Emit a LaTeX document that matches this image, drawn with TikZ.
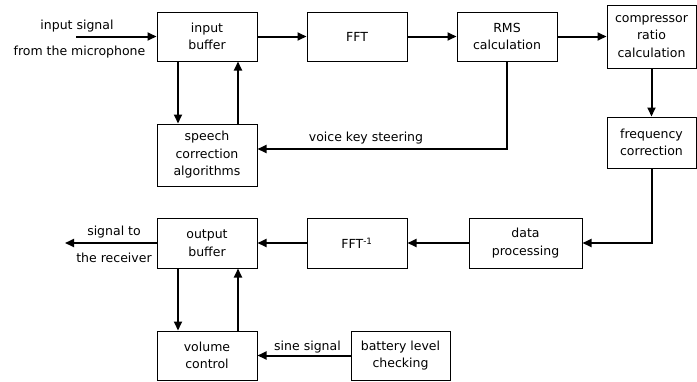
\documentclass[tikz,border=0pt]{standalone}
\usepackage{xcolor}
\usepackage{tikz}
\usepackage{fontspec}
\setmainfont{DejaVu Sans}
\usetikzlibrary{arrows.meta}

\begin{document}
\begin{tikzpicture}[x=1pt, y=-1pt,
    font=\fontsize{12.5}{17.5}\selectfont,
    blk/.style={draw, line width=1pt, align=center, inner sep=0pt, minimum width=100pt, minimum height=49pt},
    lbl/.style={draw=none, inner sep=0pt},
    arr/.style={-{Triangle[length=9pt, width=8pt]}, line width=2pt}]
                    \useasboundingbox (0,0) rectangle (697,381);

                    % Blocks placed at pixel coordinates
                    \node[blk] (InBuf)    at (207,36.5)   {input\\buffer};
                    \node[blk] (FFT)      at (357,36.5)   {FFT};
                    \node[blk] (RMS)      at (507,36.5)   {RMS\\calculation};
                    \node[blk, minimum width=89pt, minimum height=63pt] (Comp) at (651.5,36.5) {compressor\\ratio\\calculation};
                    \node[blk, minimum width=89pt, minimum height=51pt] (Freq) at (651.5,142.5) {frequency\\correction};
                    \node[blk, minimum height=62pt] (Speech) at (207,155) {speech\\correction\\algorithms};
                    \node[blk, minimum width=113pt, minimum height=50pt] (DataProc) at (525.5,243) {data\\processing};
                    \node[blk, minimum height=50pt] (IFFT)   at (357,243)  {FFT\textsuperscript{-1}};
                    \node[blk, minimum height=50pt] (OutBuf) at (207,243)  {output\\buffer};
                    \node[blk] (Volume)   at (207,355.5)  {volume\\control};
                    \node[blk, minimum width=99pt] (Battery) at (400.5,355.5) {battery level\\checking};

                    % Free ends of the outer arrows
                    \coordinate (MicIn)  at (76,36.5);
                    \coordinate (RecOut) at (65,243);

                    % Texts beside the arrows
                    \node[lbl] (InSig)    at (77,26)     {input signal};
                    \node[lbl] (InMic)    at (79.5,52)   {from the microphone};
                    \node[lbl] (OutSig)   at (114,232)   {signal to};
                    \node[lbl] (OutRec)   at (114,257.5) {the receiver};
                    \node[lbl] (VoiceKey) at (366,138)   {voice key steering};
                    \node[lbl] (Sine)     at (307.5,347) {sine signal};

                    % Arrows
                    \draw[arr] (MicIn) -- (InBuf);
                    \draw[arr] (InBuf) -- (FFT);
                    \draw[arr] (FFT) -- (RMS);
                    \draw[arr] (RMS) -- (Comp);
                    \draw[arr] (Comp) -- (Freq);
                    \draw[arr] (Freq.south) |- (DataProc.east);
                    \draw[arr] (DataProc) -- (IFFT);
                    \draw[arr] (IFFT) -- (OutBuf);
                    \draw[arr] (OutBuf) -- (RecOut);
                    \draw[arr] (RMS.south) |- ([yshift=6pt]Speech.east);
                    \draw[arr] (Battery) -- (Volume);

                    % Loops down and back up
                    \draw[arr] ([xshift=-29pt]InBuf.south) -- ([xshift=-29pt]Speech.north);
                    \draw[arr] ([xshift=31pt]Speech.north) -- ([xshift=31pt]InBuf.south);
                    \draw[arr] ([xshift=-29pt]OutBuf.south) -- ([xshift=-29pt]Volume.north);
                    \draw[arr] ([xshift=31pt]Volume.north) -- ([xshift=31pt]OutBuf.south);
                \end{tikzpicture}
\end{document}
